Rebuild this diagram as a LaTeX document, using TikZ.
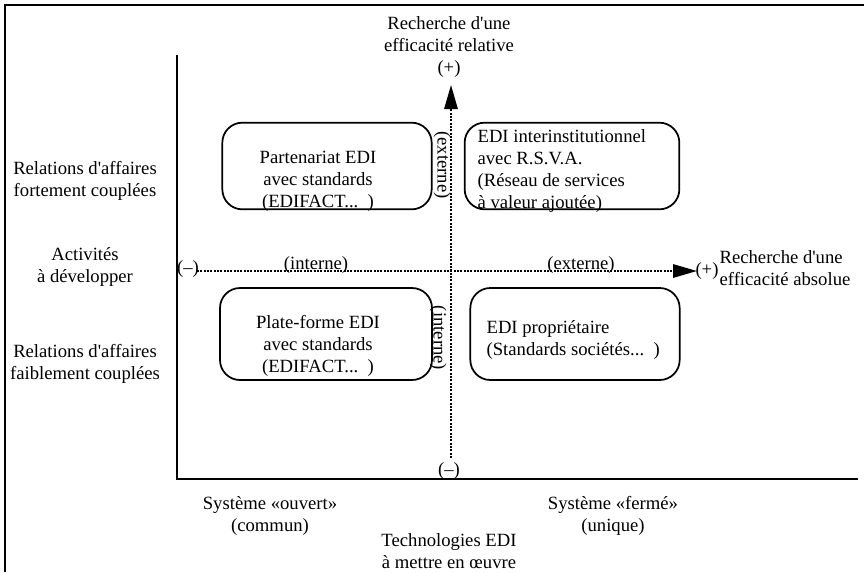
\documentclass[tikz,border=0pt]{standalone}
\usepackage{fontspec}
\setmainfont{Liberation Serif}[Ligatures=TeXOff]
\usetikzlibrary{arrows.meta,positioning}

\tikzset{
  txt/.style={align=center, font=\fontsize{14}{16.5}\selectfont, inner sep=1pt},
  txtg/.style={txt, align=left},
  quad/.style={draw, line width=1.3pt, rounded corners=15pt},
  axe/.style={line width=1.6pt},
  pointille/.style={line width=1.5pt, densely dotted},
  fleche/.style={pointille, -{Triangle[length=18pt,width=10pt]}},
}

\begin{document}
\begin{tikzpicture}[x=0.75pt, y=-0.75pt]
  \useasboundingbox (0,0) rectangle (864,572);
  % cadre
  \draw[line width=2pt] (5,572) -- (5,5) -- (864,5);

  % axes pleins
  \coordinate (oy) at (177,55);
  \coordinate (o) at (177,479);
  \coordinate (ox) at (858,479);
  \draw[axe] (oy) -- (o) -- (ox);

  % quadrants
  \node[quad, minimum width=157pt, minimum height=65pt] (pe) at (327,166) {};
  \node[quad, minimum width=161pt, minimum height=65pt] (ii) at (572,166) {};
  \node[quad, minimum width=159pt, minimum height=69pt] (pf) at (326,334) {};
  \node[quad, minimum width=157pt, minimum height=69pt] (pr) at (575,334) {};

  \node[txt] (tpe) at (318,181) {Partenariat EDI\\avec standards\\(EDIFACT...~~)};
  \node[txtg, anchor=west] (tii) at (476,171) {EDI interinstitutionnel\\avec R.S.V.A.\\(Réseau de services\\à valeur ajoutée)};
  \node[txt] (tpf) at (318,346) {Plate-forme EDI\\avec standards\\(EDIFACT...~~)};
  \node[txtg, anchor=west] (tpr) at (485,340) {EDI propriétaire\\(Standards sociétés...~~)};

  % axe vertical
  \coordinate (vb) at (451,458);
  \coordinate (vh) at (451,85);
  \draw[fleche] (vb) -- (vh);
  \node[txt] (vplus) at (449,69) {(+)};
  \node[txt] (vmoins) at (449,471) {(–)};
  \node[txt] (haut) at (449,34) {Recherche d'une\\efficacité relative};
  \node[txt, rotate=-90] (vext) at (442,165) {(externe)};
  \node[txt, rotate=-90] (vint) at (438,338) {(interne)};

  % axe horizontal
  \coordinate (hg) at (197,271);
  \coordinate (hd) at (697,271);
  \draw[fleche] (hg) -- (hd);
  \node[txt] (hmoins) at (188,269) {(–)};
  \node[txt] (hplus) at (707,271) {(+)};
  \node[txtg, anchor=west] (droite) at (718,268) {Recherche d'une\\efficacité absolue};
  \node[txt] (hint) at (316,265) {(interne)};
  \node[txt] (hext) at (581,265) {(externe)};

  % libelles a gauche
  \node[txt] (fort) at (85,181) {Relations d'affaires\\fortement couplées};
  \node[txt] (act) at (85,267) {Activités\\à développer};
  \node[txt] (faible) at (85,364) {Relations d'affaires\\faiblement couplées};

  % libelles en bas
  \node[txt] (ouv) at (270,516) {Système «ouvert»\\(commun)};
  \node[txt] (ferm) at (613,516) {Système «fermé»\\(unique)};
  \node[txt] (tech) at (449,551) {Technologies EDI\\à mettre en œuvre};
\end{tikzpicture}
\end{document}
